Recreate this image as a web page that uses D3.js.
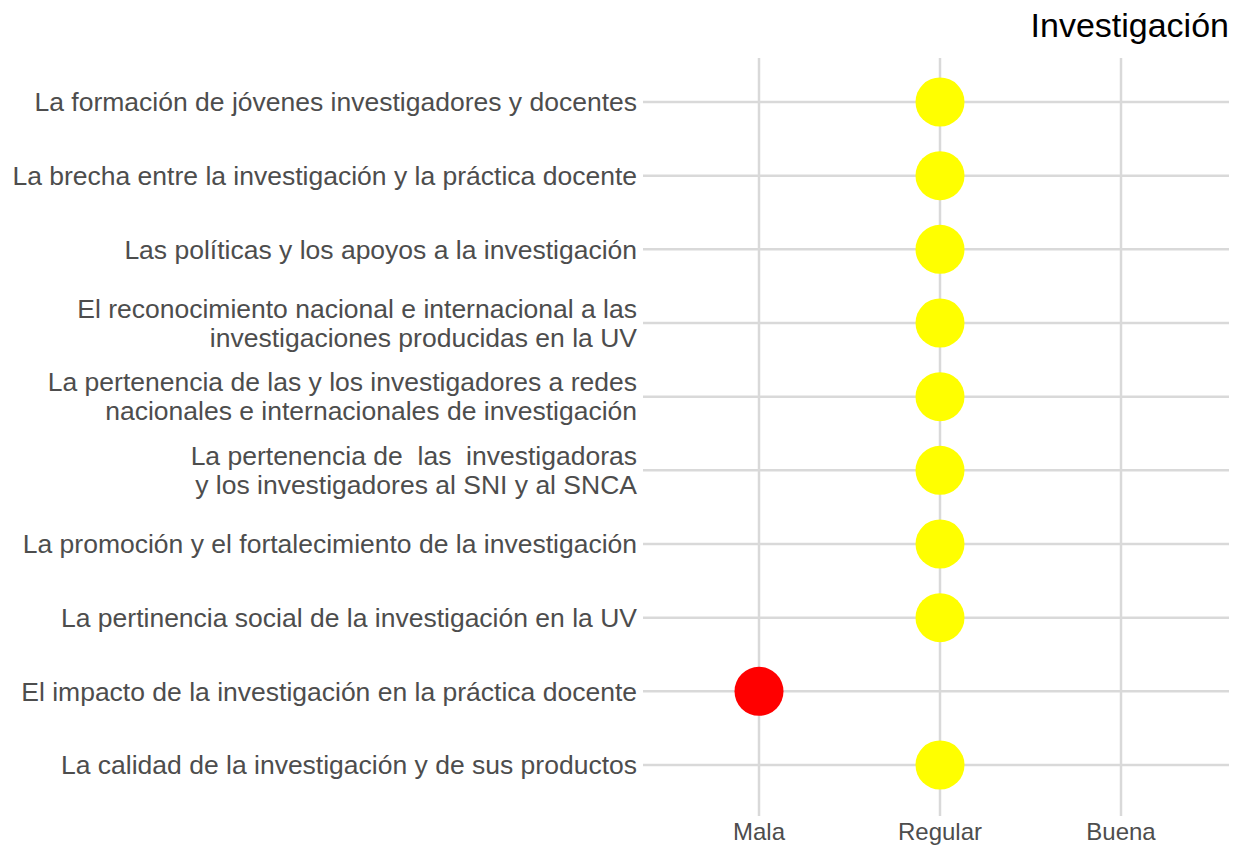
<!DOCTYPE html>
<html>
<head>
<meta charset="utf-8">
<script src="https://cdn.jsdelivr.net/npm/d3@7"></script>
<style>
  body { margin: 0; background: #fff; }
  svg { display: block; font-family: "Liberation Sans", Arial, sans-serif; }
</style>
</head>
<body>
<div id="chart"></div>
<script>
// rows, top to bottom; "\n" marks a line break in the label
const items = [
  'La formación de jóvenes investigadores y docentes',
  'La brecha entre la investigación y la práctica docente',
  'Las políticas y los apoyos a la investigación',
  'El reconocimiento nacional e internacional a las\ninvestigaciones producidas en la UV',
  'La pertenencia de las y los investigadores a redes\nnacionales e internacionales de investigación',
  'La pertenencia de  las  investigadoras\ny los investigadores al SNI y al SNCA',
  'La promoción y el fortalecimiento de la investigación',
  'La pertinencia social de la investigación en la UV',
  'El impacto de la investigación en la práctica docente',
  'La calidad de la investigación y de sus productos'
];
const ratings = ['Regular', 'Regular', 'Regular', 'Regular', 'Regular',
                 'Regular', 'Regular', 'Regular', 'Mala', 'Regular'];
const levels = ['Mala', 'Regular', 'Buena'];
const levelColors = ['#ff0000', '#ffff00', '#00b050'];
const title = 'Investigación';

const width = 1237, height = 845;
const panel = {left: 643, right: 1229, top: 58, bottom: 816};

const svg = d3.select('#chart').append('svg')
  .attr('width', width)
  .attr('height', height);

// discrete scales (first/last level positions, ggplot-style expansion around them)
let x = d3.scalePoint()
  .domain(levels)
  .range([759, 1121]);
let y = d3.scalePoint()
  .domain(items)
  .range([102, 765]);
let color = d3.scaleOrdinal().domain(levels).range(levelColors);

let grid = svg.append('g').attr('class', 'grid')
  .style('stroke', '#d9d9d9')
  .style('stroke-width', '2.5px');

grid.selectAll('.vline')
  .data(levels)
.enter().append('line')
  .attr('class', 'vline')
  .attr('x1', d => x(d)).attr('x2', d => x(d))
  .attr('y1', panel.top).attr('y2', panel.bottom);

grid.selectAll('.hline')
  .data(items)
.enter().append('line')
  .attr('class', 'hline')
  .attr('x1', panel.left).attr('x2', panel.right)
  .attr('y1', d => y(d)).attr('y2', d => y(d));

// y labels
let yLab = svg.append('g').attr('class', 'axis-y')
  .attr('font-size', 26.5)
  .attr('fill', '#4d4d4d')
  .attr('text-anchor', 'end');

yLab.selectAll('text')
  .data(items)
.enter().append('text')
  .attr('x', panel.left - 6)
  .attr('y', d => y(d))
  .each(function(d) {
    let lines = d.split('\n');
    let lh = 29;
    let t = d3.select(this);
    lines.forEach(function(l, i) {
      t.append('tspan')
        .attr('x', panel.left - 6)
        .attr('y', y(d) + (i - (lines.length - 1) / 2) * lh)
        .attr('dy', '0.35em')
        .style('white-space', 'pre')
        .text(l);
    });
  });

// x labels
svg.append('g').attr('class', 'axis-x')
  .attr('font-size', 24)
  .attr('fill', '#4d4d4d')
  .attr('text-anchor', 'middle')
.selectAll('text')
  .data(levels)
.enter().append('text')
  .attr('x', d => x(d))
  .attr('y', panel.bottom + 24)
  .text(d => d);

// points
svg.append('g').attr('class', 'points')
.selectAll('circle')
  .data(items.map((d, i) => ({item: d, rating: ratings[i]})))
.enter().append('circle')
  .attr('cx', d => x(d.rating))
  .attr('cy', d => y(d.item))
  .attr('r', 24.5)
  .style('fill', d => color(d.rating));

svg.append('text')
  .attr('x', panel.right)
  .attr('y', 37)
  .attr('text-anchor', 'end')
  .attr('font-size', 34)
  .attr('fill', '#000')
  .text(title);
</script>
</body>
</html>
